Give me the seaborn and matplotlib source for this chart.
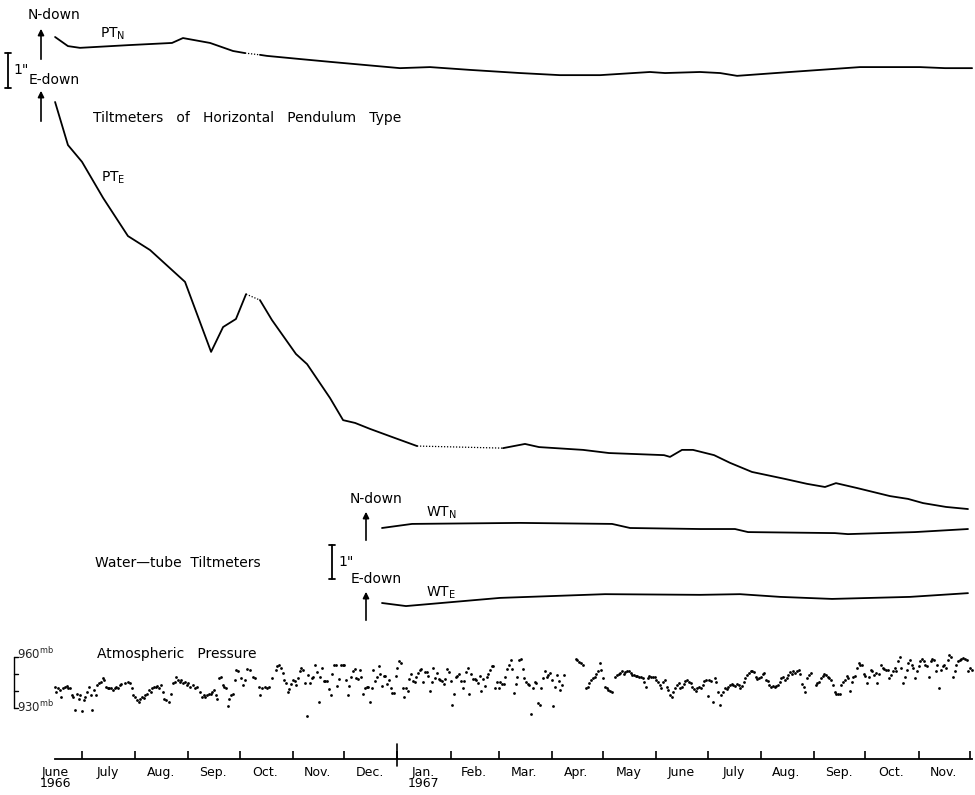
import numpy as np
import pandas as pd
import matplotlib
matplotlib.use("Agg")
import matplotlib.pyplot as plt
import matplotlib.transforms as mtransforms
import seaborn as sns

sns.set_theme(style="white")
plt.rcParams["font.family"] = ["DejaVu Sans"]
plt.rcParams["mathtext.fontset"] = "dejavusans"

BASE = pd.Timestamp("1966-06-01")

# ---------------------------------------------------------------------------
# Horizontal-pendulum tiltmeters: day after 1 June 1966, tilt in seconds of arc
# ---------------------------------------------------------------------------
pt_n_day = [14.3, 21.8, 28.8, 58.0, 82.5, 88.9, 104.7, 118.1, 125.1, 133.8,
            137.9, 157.2, 174.7, 215.5, 233.0, 256.3, 285.5, 308.8, 332.2, 361.3,
            370.1, 390.5, 402.2, 412.1, 443.0, 460.5, 483.8, 518.8, 533.4, 549.2]
pt_n_tilt = [0.00, -0.26, -0.31, -0.23, -0.17, -0.03, -0.17, -0.40, -0.46, -0.51,
             -0.54, -0.63, -0.71, -0.89, -0.86, -0.94, -1.03, -1.09, -1.09, -1.00,
             -1.03, -1.00, -1.03, -1.11, -1.00, -0.94, -0.86, -0.86, -0.89, -0.89]
pt_n_bridged = [125.1]          # record missing after this day (drawn dotted)

pt_e_day = [14.3, 21.8, 30.0, 42.3, 56.8, 69.7, 90.1, 105.3, 112.3, 119.8,
            125.7, 133.8, 140.8, 154.8, 161.3, 174.7, 182.3, 189.3, 198.0, 210.8,
            225.4, 275.6, 288.4, 296.6, 322.3, 337.4, 369.5, 373.0, 380.0, 386.4,
            398.7, 408.0, 420.8, 440.1, 452.9, 463.4, 469.8, 482.1, 501.3, 511.8,
            520.6, 534.0, 546.8]
pt_e_tilt = [0.00, -1.23, -1.71, -2.74, -3.83, -4.23, -5.14, -7.14, -6.43, -6.20,
             -5.49, -5.66, -6.23, -7.20, -7.49, -8.46, -9.09, -9.17, -9.34, -9.57,
             -9.83, -9.89, -9.77, -9.86, -9.94, -10.03, -10.09, -10.14, -9.94, -9.94,
             -10.09, -10.31, -10.57, -10.77, -10.91, -11.00, -10.89, -11.03, -11.26, -11.34,
             -11.46, -11.57, -11.63]
pt_e_bridged = [125.7, 225.4]

# ---------------------------------------------------------------------------
# Water-tube tiltmeters
# ---------------------------------------------------------------------------
wt_n_day = [205.0, 222.5, 285.5, 339.2, 349.7, 390.5, 410.9, 418.5, 469.2, 476.8, 515.9, 546.8]
wt_n_tilt = [0.00, 0.12, 0.15, 0.12, 0.00, -0.03, -0.03, -0.12, -0.15, -0.18, -0.12, -0.03]
wt_e_day = [205.0, 219.0, 273.8, 335.1, 390.5, 413.8, 437.2, 467.5, 513.0, 546.8]
wt_e_tilt = [0.00, -0.09, 0.15, 0.26, 0.24, 0.26, 0.18, 0.12, 0.18, 0.29]

# ---------------------------------------------------------------------------
# Daily atmospheric pressure (mb), four consecutive blocks
# ---------------------------------------------------------------------------
nan = np.nan
press_1_start = "1966-06-15"
press_1 = [942.5, 939.5, 941.5, 940.5, 936.5, 941.5, 942.5, 943, 942, 941.5,
           937.5, 936.5, 929, 938.5, 935.5, 937.5, 928, 934.5, 936.5, 939.5,
           942.5, 937.5, 929, 940.5, 937.5, 943.5, 944.5, 945.5, 947.5, 946.5,
           942.5, 941.5, 942, 941.5, 940.5, 941.5, 942.5, 942, 943.5, 944,
           nan, 944.5, nan, 945, 944.5, 941.5, 937.5, 936.5, 934.5, 933.5,
           935.5, 936.5, 936, 937.5, 938.5, 940.5, 939.5, 941.5, 942.5, 942.5,
           943, 941.5, 943.5, 939.5, 935.5, 934.5, nan, 933.5, 938.5, 944.5,
           945.5, 948.5, 946.5, 945.5, 946.5, 944.5, 945.5, 943.5, 944.5, 942.5,
           nan, 943.5, 941.5, 942.5, nan, 939.5, 936.5, 937.5, 936.5, 937.5,
           938, 938.5, 939.5, 940.5, 937.5, 935.5, 947.5, 948, 943.5, 942.5,
           941.5, 931, 935.5, 937.5, 938.5, 946.5, 952.5, 952, nan, 947.5,
           943.5, 946.5, 953, nan, 952.5, nan, 948.5, 947.5, nan, 942.5,
           937.5, 941.5, nan, 942.5, 941.5, 942.5, nan, 947.5, nan, 952.5,
           954.5, 955.5, 953.5, 950.5, 946.5, 944.5, 939.5]

press_2_start = "1966-10-30"
press_2 = [941, 944, 946.5, 946, 943.5, 947.5, 952, 953.5, 952.5, 944.5,
           925, 949.5, 944.5, 947.5, 948.5, 955.5, 951, 933.5, 948, 953.5,
           946, 946, 946, 941, 937.5, 950, 955.5, 955, 943, 947,
           955.5, 955.5, 955, 946.5, 937.5, 943, 948.5, 951.5, 953, 947.5,
           947, 952.5, 948, 938.5, 942, 942.5, 942.5, 933.5, 941.5, 952.5,
           946, 948, 954.5, 950, 943, 949, 949, 944, 946.5, 942,
           939, 939, 949, 953.5, 957.5, 956.5, 942, 936.5, 942, 940,
           947, 950, 946, 945, 948, 950.5, 952.5, 953, 945, 951,
           951, 949, 940, 945.5, 953.5, 947.5, 950.5, 947, 946.5, 946,
           944, 947, 953, 951, 946, 932, 938, 948, 949, 950,
           946, 942, 946, 951, 953.5, 938.5, 950, 947, 947, 946.5,
           944.5, 949, 940, 947, 943, 948, 950, 952.5, 954.5, 954.5,
           942, 945, 942, 945, 944, 944, 948.5, 953, 955, 958,
           953, 939, 944, 948, 958, 959, 953, 947.5]

press_3_start = "1967-03-17"
press_3 = [945.5, 944, 943.5, 926.5, 941.5, 945, 944.5, 933, 932, 941.5,
           947.5, 951.5, 948, 949.5, 950.5, 946.5, 931, 942.5, 949.5, 946,
           940.5, 943.5, 949.5, nan, nan, nan, nan, nan, nan, 959,
           958, 957, 956.5, 955.5, nan, 941.5, 942.5, 944.5, 946.5, 947.5,
           948.5, 950, 951.5, 956.5, 952.5, 947.5, 942.5, 941.5, 940.5, 940,
           939.5, nan, 948.5, 949.5, 950, 950.5, 951.5, 950, 951, 951.5,
           952, 950.5, 949.5, 949.5, 949, 949, 948.5, 948.5, 947.5, 945.5,
           942.5, 947.5, 949, 948.5, 948.5, 948, 946.5, 945, 943.5, 941.5,
           945.5, 946.5, 942.5, 940.5, 937.5, 936.5, 939.5, 941.5, 943.5, 944.5,
           942, 942.5, 944, 946, 946.5, 945.5, 944.5, 942.5, 941, 940,
           941.5, 942.5, 941.5, 943.5, 946, 946.5, 937, 946.5, 946, 933.5,
           947.5, 945.5, 939.5, 932, 937.5, 939.5, 941.5, 941, 942.5, 943.5,
           944, 943.5, 943, 944, 943.5, 941.5, 943, 945.5, 947.5, 949.5,
           950.5, 952, 951.5, 951, 948.5, 947, 947.5, 948, 950, 950.5]

press_4_start = "1967-08-04"
press_4 = [946.5, 946, 943.5, 942.5, 943, 942.5, 943, 943.5, 945.5, 947.5,
           948.5, 946.5, 947.5, 949.5, 951, 950, 951.5, 950.5, 952, 952.5,
           950, 944, 942.5, 939.5, 947.5, 949.5, 950.5, nan, nan, 943.5,
           944.5, 945.5, 947.5, 949, 950, 949.5, 948.5, 947.5, 946.5, 943.5,
           939.5, 938, 938.5, 938, 943.5, 945.5, 946.5, 949, 947.5, 940,
           945, 948, 949, 953.5, 956.5, 955.5, 955.5, 950, 949, 944.5,
           948.5, 952.5, 951.5, 949.5, 950.5, 944.5, 950, 955, 953.5, 953,
           952.5, 952.5, 947.5, 949.5, 951.5, 953.5, 952, 957.5, 960, 953.5,
           944.5, 948.5, 952.5, 956.5, 958, 955.5, 953.5, 947.5, 952, 954.5,
           957.5, 959, 957.5, 955.5, 954.5, 948.5, 957.5, 959, 958, 952,
           955.5, 941.5, 952.5, 954.5, 955, 953.5, 958, 961, 960, 948.5,
           951.5, 955.5, 957.5, 958, 959, 959.5, 959, 958, 952, 953.5,
           952.5]

# Time axis labels
month_names = ["June", "July", "Aug.", "Sep.", "Oct.", "Nov.", "Dec.", "Jan.", "Feb.",
               "Mar.", "Apr.", "May", "June", "July", "Aug.", "Sep.", "Oct.", "Nov."]
year_labels = {0: "1966", 7: "1967"}

# ---------------------------------------------------------------------------
W, H = 975, 795
fig = plt.figure(figsize=(W / 100, H / 100), dpi=100)
fig.patch.set_facecolor("white")


def fpos(x, y):
    """Figure fraction from pixel position measured from the top-left corner."""
    return x / W, 1 - y / H


XLIM = (-17.83, 550.9)


def full_axes(ylim):
    ax = fig.add_axes([0, 0, 1, 1])
    ax.set_facecolor("none")
    ax.set_xlim(*XLIM)
    ax.set_ylim(*ylim)
    ax.axis("off")
    return ax


def draw_trace(ax, days, vals, offset, bridged, lw=1.3):
    days = np.asarray(days, float)
    vals = np.asarray(vals, float) + offset
    cuts = [0] + [i + 1 for i, d in enumerate(days) if d in bridged] + [len(days)]
    for a, b in zip(cuts[:-1], cuts[1:]):
        sns.lineplot(x=days[a:b], y=vals[a:b], ax=ax, color="black", lw=lw,
                     sort=False, estimator=None, legend=False)
    for i, d in enumerate(days):
        if d in bridged:
            ax.plot(days[i:i + 2], vals[i:i + 2], color="black", lw=0.9,
                    ls=(0, (1.0, 1.4)))


def arrow_up(x, y0, y1):
    fig.add_artist(matplotlib.patches.FancyArrowPatch(
        fpos(x, y0), fpos(x, y1), transform=fig.transFigure,
        arrowstyle="-|>", mutation_scale=9, color="black", lw=1.2))


def scale_bar(ax, x, y0):
    tr = mtransforms.blended_transform_factory(fig.transFigure, ax.transData)
    ax.plot([x / W, x / W], [y0, y0 + 1], transform=tr, color="black", lw=1.3)
    for yy in (y0, y0 + 1):
        ax.plot([(x - 3) / W, (x + 3) / W], [yy, yy], transform=tr, color="black", lw=1.3)


TXT = dict(color="black", fontsize=10)

# --- pendulum tiltmeters (35 px per second of arc) -------------------------
ax_pt = full_axes((1.057 - H / 35.0, 1.057))
draw_trace(ax_pt, pt_n_day, pt_n_tilt, 0.0, pt_n_bridged)
draw_trace(ax_pt, pt_e_day, pt_e_tilt, -1.857, pt_e_bridged)
ax_pt.set_xlim(*XLIM)
ax_pt.set_ylim(1.057 - H / 35.0, 1.057)
scale_bar(ax_pt, 8, -1.457)

fig.text(*fpos(54, 15), "N-down", ha="center", va="center", **TXT)
fig.text(*fpos(54, 80), "E-down", ha="center", va="center", **TXT)
fig.text(*fpos(13, 70), '1"', ha="left", va="center", **TXT)
arrow_up(41, 62, 26)
arrow_up(41, 124, 88)
fig.text(*fpos(100, 34), r"PT$_{\mathregular{N}}$", ha="left", va="center", **TXT)
fig.text(*fpos(101, 178), r"PT$_{\mathregular{E}}$", ha="left", va="center", **TXT)
fig.text(*fpos(93, 118), "Tiltmeters   of   Horizontal   Pendulum   Type",
         ha="left", va="center", **TXT)

# --- water-tube tiltmeters (34 px per second of arc) -----------------------
ax_wt = full_axes((528 / 34.0 - H / 34.0, 528 / 34.0))
draw_trace(ax_wt, wt_n_day, wt_n_tilt, 0.0, [])
draw_trace(ax_wt, wt_e_day, wt_e_tilt, -2.206, [])
ax_wt.set_xlim(*XLIM)
ax_wt.set_ylim(528 / 34.0 - H / 34.0, 528 / 34.0)
scale_bar(ax_wt, 332, -1.5)

fig.text(*fpos(376, 499), "N-down", ha="center", va="center", **TXT)
fig.text(*fpos(376, 579), "E-down", ha="center", va="center", **TXT)
fig.text(*fpos(338, 562), '1"', ha="left", va="center", **TXT)
arrow_up(366, 543, 509)
arrow_up(366, 623, 589)
fig.text(*fpos(426, 513), r"WT$_{\mathregular{N}}$", ha="left", va="center", **TXT)
fig.text(*fpos(426, 593), r"WT$_{\mathregular{E}}$", ha="left", va="center", **TXT)
fig.text(*fpos(95, 563), "Water\u2014tube  Tiltmeters", ha="left", va="center", **TXT)

# --- atmospheric pressure (1.7 px per mb) ----------------------------------
p_ylim = (960 - (H - 657) / 1.7, 960 + 657 / 1.7)
ax_p = full_axes(p_ylim)
for start, vals in [(press_1_start, press_1), (press_2_start, press_2),
                    (press_3_start, press_3), (press_4_start, press_4)]:
    d0 = (pd.Timestamp(start) - BASE).days
    days = d0 + np.arange(len(vals))
    sns.scatterplot(x=days, y=np.asarray(vals, float), ax=ax_p, s=4,
                    color="black", linewidth=0, marker="o", legend=False)
ax_p.set_xlim(*XLIM)
ax_p.set_ylim(*p_ylim)

trp = mtransforms.blended_transform_factory(fig.transFigure, ax_p.transData)
ax_p.plot([14 / W, 14 / W], [930, 960], transform=trp, color="black", lw=1.0)
for lev in (930, 940, 950, 960):
    ax_p.plot([14 / W, 18 / W], [lev, lev], transform=trp, color="black", lw=1.0)
fig.text(*fpos(17, 654), r"960$^{\mathregular{mb}}$", ha="left", va="center", fontsize=8.5)
fig.text(*fpos(17, 707), r"930$^{\mathregular{mb}}$", ha="left", va="center", fontsize=8.5)
fig.text(*fpos(97, 654), "Atmospheric   Pressure", ha="left", va="center", **TXT)

# --- time axis -------------------------------------------------------------
month_starts = pd.date_range("1966-07-01", "1967-12-01", freq="MS")
tick_days = [(m - BASE).days for m in month_starts]
label_months = pd.date_range("1966-06-01", "1967-11-01", freq="MS")
mid_days = [(m - BASE).days + m.days_in_month / 2.0 - 0.5 for m in label_months]
labels = [name + ("\n" + year_labels[i] if i in year_labels else "")
          for i, name in enumerate(month_names)]

ax_t = fig.add_axes([0, (H - 759) / H, 1, 8 / H])
ax_t.set_facecolor("none")
ax_t.set_xlim(*XLIM)
ax_t.set_ylim(0, 1)
for side in ("top", "left", "right"):
    ax_t.spines[side].set_visible(False)
ax_t.spines["bottom"].set_color("black")
ax_t.spines["bottom"].set_linewidth(1.3)
ax_t.spines["bottom"].set_bounds(14.3, 549.2)
ax_t.set_yticks([])
ax_t.set_xticks(tick_days)
ax_t.set_xticks(mid_days, minor=True)
ax_t.set_xticklabels([], minor=False)
ax_t.set_xticklabels(labels, minor=True)
ax_t.tick_params(axis="x", which="major", direction="in", length=6, width=1.2,
                 color="black", bottom=True)
ax_t.tick_params(axis="x", which="minor", length=0, pad=5, labelsize=9,
                 labelcolor="black", bottom=True)
for lab in ax_t.get_xticklabels(minor=True):
    lab.set_linespacing(0.85)
jan_day = (pd.Timestamp("1967-01-01") - BASE).days
ax_t.axvline(jan_day, ymin=-0.9, ymax=1.9, color="black", lw=1.2, clip_on=False)

fig.savefig("out.png", dpi=100, facecolor="white")
